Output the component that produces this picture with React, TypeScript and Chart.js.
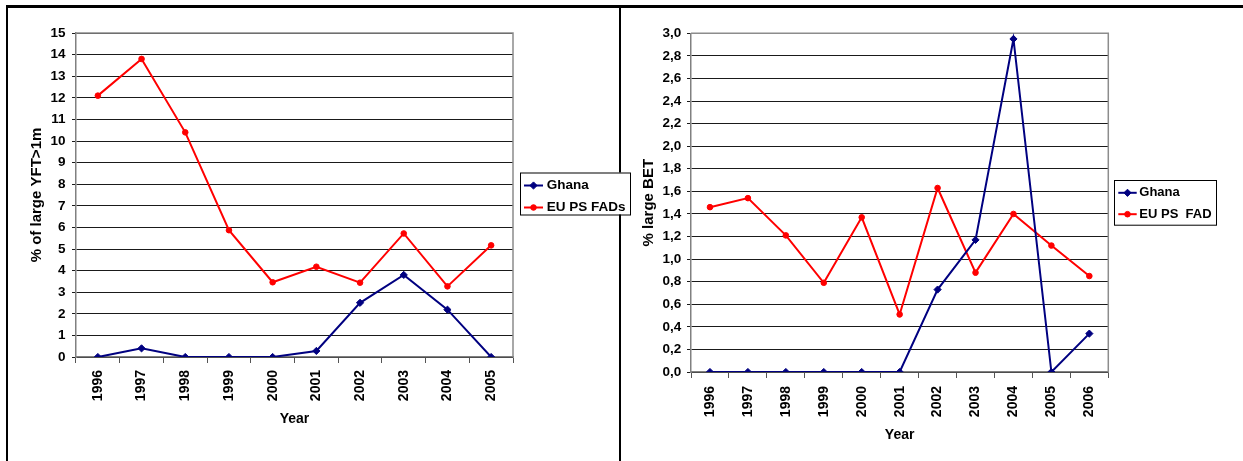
import { useEffect, useRef } from 'react';
import { Chart, registerables } from 'chart.js';
import { drawPoint } from 'chart.js/helpers';

Chart.register(...registerables);

// Yellowfin tuna (>1 m) share, 1996–2005
const YFT_YEARS = ['1996', '1997', '1998', '1999', '2000', '2001', '2002', '2003', '2004', '2005'];
const YFT_GHANA = [0, 0.4, 0, 0, 0, 0.28, 2.51, 3.8, 2.19, 0];
const YFT_EU_FADS = [12.1, 13.8, 10.4, 5.87, 3.46, 4.18, 3.44, 5.72, 3.27, 5.17];

// Bigeye tuna share, 1996–2006
const BET_YEARS = ['1996', '1997', '1998', '1999', '2000', '2001', '2002', '2003', '2004', '2005', '2006'];
const BET_GHANA = [0, 0, 0, 0, 0, 0, 0.73, 1.17, 2.95, 0, 0.34];
const BET_EU_FAD = [1.46, 1.54, 1.21, 0.79, 1.37, 0.51, 1.63, 0.88, 1.4, 1.12, 0.85];

const YFT_SERIES_NAMES = ['Ghana', 'EU PS FADs'];
const BET_SERIES_NAMES = ['Ghana', 'EU PS  FAD'];

const FONT = '"Liberation Sans", Arial, Helvetica, sans-serif';
const NAVY = '#000080';
const RED = '#ff0000';

type LegendBox = {
  x: number; y: number; w: number; h: number;
  rows: number[]; lineX0: number; lineX1: number; textX: number; size: number;
};

type Spec = {
  labels: string[];
  ghana: number[];
  eu: number[];
  names: string[];
  yMax: number;
  yStep: number;
  yTitle: string;
  fmt: (v: number) => string;
  padTop: number;
  padRight: number;
  yWidth: number;
  xHeight: number;
  yTitlePad: number;
  xTitlePad: number;
  yTickPad: number;
  xTickPad: number;
  legend: LegendBox;
};

function buildChart(canvas: HTMLCanvasElement, s: Spec) {
  // Grey frame on top/right of the plot area
  const frame = {
    id: 'plotFrame',
    beforeDatasetsDraw(chart: any) {
      const { ctx, chartArea: a } = chart;
      ctx.save();
      ctx.strokeStyle = '#8c8c8c';
      ctx.lineWidth = 1.5;
      ctx.beginPath();
      ctx.moveTo(a.left, a.top);
      ctx.lineTo(a.right, a.top);
      ctx.lineTo(a.right, a.bottom);
      ctx.stroke();
      ctx.restore();
    },
  };

  // Boxed legend with line-and-marker samples
  const L = s.legend;
  const legend = {
    id: 'boxLegend',
    afterDraw(chart: any) {
      const { ctx } = chart;
      ctx.save();
      ctx.fillStyle = '#ffffff';
      ctx.fillRect(L.x, L.y, L.w, L.h);
      ctx.strokeStyle = '#000000';
      ctx.lineWidth = 1;
      ctx.strokeRect(L.x + 0.5, L.y + 0.5, L.w, L.h);
      chart.data.datasets.forEach((ds: any, i: number) => {
        const ry = L.rows[i];
        ctx.strokeStyle = ds.borderColor;
        ctx.lineWidth = 2;
        ctx.beginPath();
        ctx.moveTo(L.lineX0, ry);
        ctx.lineTo(L.lineX1, ry);
        ctx.stroke();
        ctx.fillStyle = ds.backgroundColor;
        ctx.strokeStyle = ds.borderColor;
        ctx.lineWidth = 1;
        drawPoint(ctx, { pointStyle: ds.pointStyle, radius: ds.pointRadius, rotation: 0, borderWidth: 1 }, (L.lineX0 + L.lineX1) / 2, ry);
        ctx.fillStyle = '#000';
        ctx.font = `bold ${L.size}px ${FONT}`;
        ctx.textBaseline = 'middle';
        ctx.textAlign = 'left';
        ctx.fillText(ds.label, L.textX, ry);
      });
      ctx.restore();
    },
  };

  return new Chart(canvas, {
    type: 'line',
    data: {
      labels: s.labels,
      datasets: [
        {
          label: s.names[0],
          data: s.ghana,
          borderColor: NAVY,
          backgroundColor: NAVY,
          borderWidth: 2,
          pointStyle: 'rectRot',
          pointRadius: 3.6,
          pointBorderWidth: 1,
          tension: 0,
        },
        {
          label: s.names[1],
          data: s.eu,
          borderColor: RED,
          backgroundColor: RED,
          borderWidth: 2,
          pointStyle: 'circle',
          pointRadius: 2.8,
          pointBorderWidth: 1,
          tension: 0,
        },
      ],
    },
    options: {
      responsive: false,
      animation: false,
      devicePixelRatio: 1,
      layout: { padding: { top: s.padTop, right: s.padRight, left: 0, bottom: 0 } },
      plugins: {
        legend: { display: false },
        tooltip: { enabled: false },
        title: { display: false },
      },
      scales: {
        x: {
          type: 'category',
          offset: true,
          grid: {
            display: true,
            offset: true,
            drawOnChartArea: false,
            drawTicks: true,
            tickLength: 6,
            color: '#555',
          },
          border: { display: true, color: '#808080', width: 1.5 },
          ticks: {
            autoSkip: false,
            minRotation: 90,
            maxRotation: 90,
            padding: s.xTickPad,
            color: '#000',
            font: { family: FONT, size: 14, weight: 'bold' },
          },
          title: {
            display: true,
            text: 'Year',
            color: '#000',
            font: { family: FONT, size: 14, weight: 'bold' },
            padding: { top: 0, bottom: s.xTitlePad },
          },
          afterFit: (scale: any) => {
            scale.height = s.xHeight;
          },
        },
        y: {
          min: 0,
          max: s.yMax,
          grid: {
            color: '#1a1a1a',
            lineWidth: 1,
            drawTicks: true,
            tickLength: 4,
          },
          border: { display: true, color: '#808080', width: 1.5 },
          ticks: {
            stepSize: s.yStep,
            autoSkip: false,
            padding: s.yTickPad,
            color: '#000',
            font: { family: FONT, size: 13.5, weight: 'bold' },
            callback: (v: any) => s.fmt(Number(v)),
          },
          title: {
            display: true,
            text: s.yTitle,
            color: '#000',
            font: { family: FONT, size: 15, weight: 'bold' },
            padding: { top: s.yTitlePad, bottom: 0 },
          },
          afterFit: (scale: any) => {
            scale.width = s.yWidth;
          },
        },
      },
    },
    plugins: [frame, legend],
  } as any);
}

function PanelChart({ spec, left, width, z }: { spec: Spec; left: number; width: number; z: number }) {
  const ref = useRef<HTMLCanvasElement>(null);
  useEffect(() => {
    if (!ref.current) return;
    const chart = buildChart(ref.current, spec);
    return () => chart.destroy();
  }, [spec]);
  return (
    <canvas
      ref={ref}
      width={width}
      height={453}
      style={{ position: 'absolute', left, top: 8, width, height: 453, zIndex: z }}
    />
  );
}

const yftSpec: Spec = {
  labels: YFT_YEARS,
  ghana: YFT_GHANA,
  eu: YFT_EU_FADS,
  names: YFT_SERIES_NAMES,
  yMax: 15,
  yStep: 1,
  yTitle: '% of large YFT>1m',
  fmt: (v) => String(Math.round(v)),
  padTop: 25,
  padRight: 127,
  yWidth: 68,
  xHeight: 104,
  yTitlePad: 19.5,
  xTitlePad: 33,
  yTickPad: 6.5,
  xTickPad: 7,
  legend: { x: 512, y: 164.5, w: 110, h: 42, rows: [177.5, 199.5], lineX0: 516, lineX1: 535, textX: 538.7, size: 13.5 },
};

const betSpec: Spec = {
  labels: BET_YEARS,
  ghana: BET_GHANA,
  eu: BET_EU_FAD,
  names: BET_SERIES_NAMES,
  yMax: 3,
  yStep: 0.2,
  yTitle: '% large BET',
  fmt: (v) => v.toFixed(1).replace('.', ','),
  padTop: 25.3,
  padRight: 134.7,
  yWidth: 70,
  xHeight: 89,
  yTitlePad: 18.8,
  xTitlePad: 17,
  yTickPad: 5.7,
  xTickPad: 8,
  legend: { x: 493, y: 172, w: 102, h: 44.7, rows: [184.8, 206.2], lineX0: 497.3, lineX1: 515.7, textX: 518.3, size: 13 },
};

export default function App() {
  return (
    <div
      style={{
        position: 'absolute',
        left: 0,
        top: 0,
        width: 1243,
        height: 461,
        background: '#fff',
        overflow: 'hidden',
      }}
    >
      <div style={{ position: 'absolute', left: 6, top: 5, width: 1237, height: 3, background: '#000' }} />
      <div style={{ position: 'absolute', left: 6, top: 5, width: 2, height: 456, background: '#000' }} />
      <div style={{ position: 'absolute', left: 619, top: 5, width: 2, height: 456, background: '#000' }} />
      <PanelChart spec={yftSpec} left={8} width={632} z={2} />
      <PanelChart spec={betSpec} left={621} width={622} z={1} />
    </div>
  );
}
